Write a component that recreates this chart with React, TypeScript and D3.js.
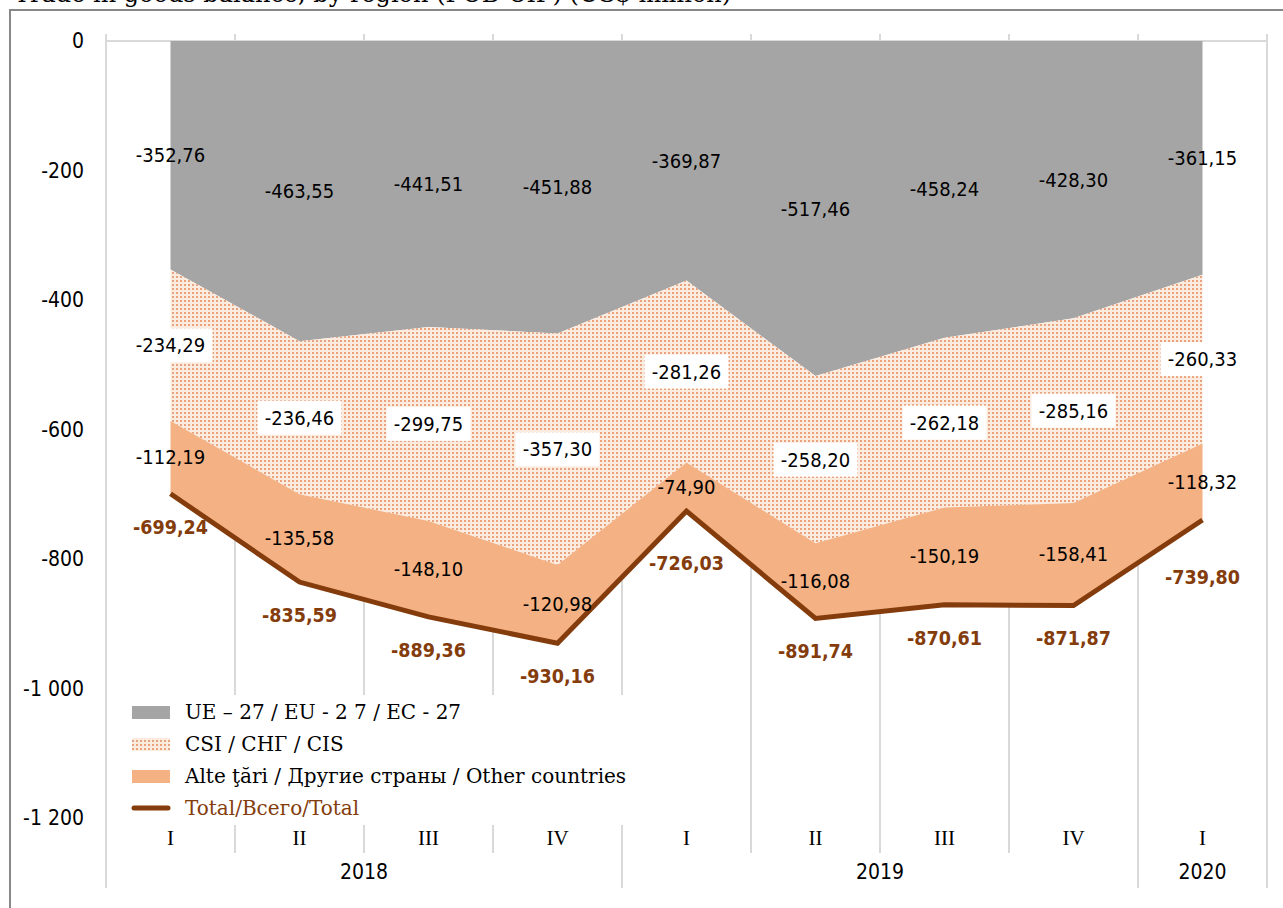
import React from "react";
import * as d3 from "d3";

const quarters = ["I", "II", "III", "IV", "I", "II", "III", "IV", "I"];
const yearLabels = ["2018", "2019", "2020"];
const yearSpans = [4, 4, 1];
const euValues = [-352.76, -463.55, -441.51, -451.88, -369.87, -517.46, -458.24, -428.3, -361.15];
const cisValues = [-234.29, -236.46, -299.75, -357.3, -281.26, -258.2, -262.18, -285.16, -260.33];
const otherValues = [-112.19, -135.58, -148.1, -120.98, -74.9, -116.08, -150.19, -158.41, -118.32];
const totalValues = [-699.24, -835.59, -889.36, -930.16, -726.03, -891.74, -870.61, -871.87, -739.8];
const yTicks = [0, -200, -400, -600, -800, -1000, -1200];
const seriesKeys = ["eu", "cis", "other"];
const legendLabels = [
  "UE – 27 / EU - 2 7 / EC - 27",
  "CSI / СНГ / CIS",
  "Alte ţări / Другие страны / Other countries",
  "Total/Всего/Total",
];
const titleText = "Trade in goods balance, by region (FOB-CIF) (US$ million)";

const NUM_FONT = "'Liberation Sans Narrow', 'DejaVu Sans Condensed', 'Liberation Sans', sans-serif";
const SERIF = "'Liberation Serif', 'DejaVu Serif', serif";
const WIDE_SERIF = "'DejaVu Serif', 'Liberation Serif', serif";

const GRAY = "#A5A5A5";
const ORANGE = "#F4B183";
const BROWN = "#843C0C";
const GRID = "#D9D9D9";

// vertical offset (px) of total labels below their points; some were nudged in the original
const totalLabelOffset = (i: number) => (i === 4 ? 52 : i === 8 ? 57 : 33);

const locale = d3.formatLocale({
  decimal: ",",
  thousands: " ",
  grouping: [3],
  currency: ["", ""],
  minus: "-",
});
const fmt2 = locale.format(",.2f");
const fmt0 = locale.format(",.0f");

export default function App() {
  const W = 1283;
  const H = 908;
  const left = 106;
  const right = 1267;
  const top = 41;
  const bottom = 818;

  const x = d3
    .scaleBand<number>()
    .domain(quarters.map((_, i) => i))
    .range([left, right])
    .paddingInner(0)
    .paddingOuter(0);
  const cx = (i: number) => (x(i) as number) + x.bandwidth() / 2;
  const y = d3.scaleLinear().domain([-1200, 0]).range([bottom, top]);

  const rows = quarters.map((_, i) => ({
    eu: euValues[i],
    cis: cisValues[i],
    other: otherValues[i],
  }));
  const stacked = d3
    .stack<any>()
    .keys(seriesKeys)
    .offset(d3.stackOffsetDiverging)(rows);

  const area = d3
    .area<any>()
    .x((d, i) => cx(i))
    .y0((d) => y(d[0]))
    .y1((d) => y(d[1]));
  const line = d3
    .line<number>()
    .x((d, i) => cx(i))
    .y((d) => y(d));

  const fills = [GRAY, "url(#cisPattern)", ORANGE];

  const boundaries = d3.range(quarters.length + 1).map((i) => left + i * x.bandwidth());

  const yearBounds: number[] = [0];
  yearSpans.forEach((s) => yearBounds.push(yearBounds[yearBounds.length - 1] + s));

  return (
    <svg
      width={W}
      height={H}
      style={{ position: "absolute", left: 0, top: 0, background: "#fff" }}
    >
      <defs>
        <pattern id="cisPattern" width={4} height={4} patternUnits="userSpaceOnUse">
          <rect width={4} height={4} fill="#FCEBDF" />
          <rect x={0} y={0} width={2} height={2} fill="#E9A27E" />
        </pattern>
      </defs>
      <rect x={0} y={0} width={W} height={H} fill="#fff" />
      <text x={14} y={2} fontFamily={WIDE_SERIF} fontSize={24} fill="#000">
        {titleText}
      </text>
      <rect x={10} y={10} width={W + 20} height={H + 20} fill="none" stroke="#888" strokeWidth={2} />

      {boundaries.map((bx, i) => (
        <line key={"g" + i} x1={bx} x2={bx} y1={34} y2={853} stroke={GRID} strokeWidth={2} />
      ))}
      {yearBounds.map((b, i) => (
        <line
          key={"ys" + i}
          x1={left + b * x.bandwidth()}
          x2={left + b * x.bandwidth()}
          y1={826}
          y2={888}
          stroke={GRID}
          strokeWidth={2}
        />
      ))}
      <line x1={left} x2={right} y1={y(0)} y2={y(0)} stroke={GRID} strokeWidth={2} />

      {stacked.map((s, k) => (
        <path key={"a" + k} d={area(s as any) as string} fill={fills[k]} />
      ))}

      <path
        d={line(totalValues) as string}
        fill="none"
        stroke={BROWN}
        strokeWidth={5}
        strokeLinejoin="miter"
      />

      {stacked.map((s, k) =>
        s.map((d: any, i: number) => {
          const my = y((d[0] + d[1]) / 2);
          const v = [euValues, cisValues, otherValues][k][i];
          return (
            <g key={"l" + k + "-" + i}>
              {k === 1 && (
                <rect x={cx(i) - 42} y={my - 17} width={84} height={34} fill="#fff" />
              )}
              <text
                x={cx(i)}
                y={my}
                dy="0.35em"
                textAnchor="middle"
                fontFamily={NUM_FONT}
                fontSize={20}
                fill="#000"
              >
                {fmt2(v)}
              </text>
            </g>
          );
        })
      )}
      {totalValues.map((v, i) => (
        <text
          key={"t" + i}
          x={cx(i)}
          y={y(v) + totalLabelOffset(i)}
          dy="0.35em"
          textAnchor="middle"
          fontFamily={NUM_FONT}
          fontSize={19.5}
          fontWeight="bold"
          fill={BROWN}
        >
          {fmt2(v)}
        </text>
      ))}

      {yTicks.map((t) => (
        <text
          key={"y" + t}
          x={84}
          y={y(t)}
          dy="0.35em"
          textAnchor="end"
          fontFamily={NUM_FONT}
          fontSize={21}
          fill="#000"
        >
          {fmt0(t)}
        </text>
      ))}

      {quarters.map((q, i) => (
        <text
          key={"q" + i}
          x={cx(i)}
          y={838}
          dy="0.35em"
          textAnchor="middle"
          fontFamily={SERIF}
          fontSize={21}
          fill="#000"
        >
          {q}
        </text>
      ))}
      {yearLabels.map((yl, i) => {
        const x0 = left + yearBounds[i] * x.bandwidth();
        const x1 = left + yearBounds[i + 1] * x.bandwidth();
        return (
          <text
            key={"yr" + i}
            x={(x0 + x1) / 2}
            y={872}
            dy="0.35em"
            textAnchor="middle"
            fontFamily={NUM_FONT}
            fontSize={21}
            fill="#000"
          >
            {yl}
          </text>
        );
      })}

      <rect x={112} y={695} width={530} height={130} fill="#fff" />
      <rect x={132} y={706} width={38} height={13} fill={GRAY} />
      <rect x={132} y={738} width={38} height={13} fill="url(#cisPattern)" />
      <rect x={132} y={770} width={38} height={13} fill={ORANGE} />
      <line x1={134} x2={168} y1={808} y2={808} stroke={BROWN} strokeWidth={5} strokeLinecap="round" />
      {legendLabels.map((l, i) => (
        <text
          key={"lg" + i}
          x={185}
          y={712 + i * 32}
          dy="0.35em"
          fontFamily={WIDE_SERIF}
          fontSize={20}
          fill={i === 3 ? BROWN : "#000"}
        >
          {l}
        </text>
      ))}
    </svg>
  );
}
